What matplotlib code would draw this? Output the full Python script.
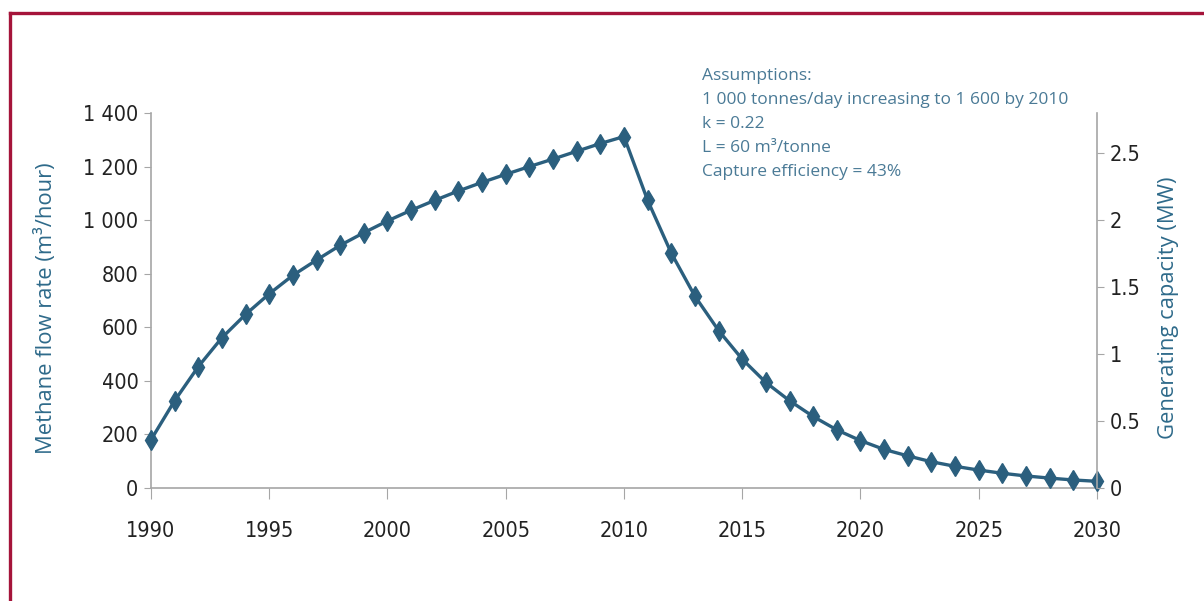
import matplotlib.pyplot as plt
from matplotlib.lines import Line2D

years = list(range(1990, 2031))
methane = [180, 326, 453, 561, 648, 725, 794, 851, 906, 953,
           997, 1037, 1074, 1109, 1141, 1171, 1200, 1228, 1257, 1286,
           1312, 1074, 877, 716, 588, 481, 394, 326, 267, 217,
           177, 144, 120, 98, 81, 67, 55, 45, 37, 30, 25]

left_ticks = [0, 200, 400, 600, 800, 1000, 1200, 1400]
left_labels = ['0', '200', '400', '600', '800', '1 000', '1 200', '1 400']
right_ticks = [0, 0.5, 1, 1.5, 2, 2.5]
right_labels = ['0', '0.5', '1', '1.5', '2', '2.5']
x_ticks = [1990, 1995, 2000, 2005, 2010, 2015, 2020, 2025, 2030]

notes = ['Assumptions:',
         '1 000 tonnes/day increasing to 1 600 by 2010',
         'k = 0.22',
         'L = 60 m\u00b3/tonne',
         'Capture efficiency = 43%']

line_col = '#2b5f7e'
label_col = '#2e6a8a'
note_col = '#4a7a96'
spine_col = '#a6a6a6'
text_font = ['Open Sans', 'DejaVu Sans']
tick_kw = dict(family='DejaVu Sans', stretch='condensed', fontsize=15.5)

fig = plt.figure(figsize=(12.04, 6.01), dpi=100)
ax1 = fig.add_axes([0.1254, 0.188, 0.7857, 0.624])
ax2 = ax1.twinx()

ax1.plot(years, methane, '-', color=line_col, lw=2.4, marker='d',
         markersize=10.5, markerfacecolor=line_col, markeredgecolor=line_col,
         clip_on=False, zorder=3)

ax1.set_xlim(1990, 2030)
ax1.set_ylim(0, 1400)
ax2.set_ylim(0, 2.8)

ax1.set_xticks(x_ticks)
ax1.set_xticklabels([str(x) for x in x_ticks], **tick_kw)
ax1.set_yticks(left_ticks)
ax1.set_yticklabels(left_labels, **tick_kw)
ax2.set_yticks(right_ticks)
ax2.set_yticklabels(right_labels, **tick_kw)

for a in (ax1, ax2):
    a.spines['top'].set_visible(False)
    for s in ('left', 'right', 'bottom'):
        a.spines[s].set_color(spine_col)
        a.spines[s].set_linewidth(1.2)
ax2.spines['left'].set_visible(False)
ax2.spines['bottom'].set_visible(False)
ax1.spines['right'].set_visible(False)

ax1.tick_params(axis='x', length=8, color=spine_col, pad=16, labelcolor='#222222')
ax1.tick_params(axis='y', length=5, color=spine_col, pad=4, labelcolor='#222222')
ax2.tick_params(axis='y', length=5, color=spine_col, pad=4, labelcolor='#222222')

ax1.set_ylabel('Methane flow rate (m\u00b3/hour)', color=label_col,
               family=text_font, fontsize=15.8)
ax1.yaxis.set_label_coords(-0.099, 0.48)
ax2.set_ylabel('Generating capacity (MW)', color=label_col,
               family=text_font, fontsize=15.8, rotation=90)
ax2.yaxis.set_label_coords(1.064, 0.48)

for i, t in enumerate(notes):
    fig.text(702 / 1204, 1 - (76 + 24 * i) / 601, t, color=note_col,
             family=text_font, fontsize=12.5, va='center', ha='left')

# red frame along top and left edge
frame_col = '#a5143a'
fig.add_artist(Line2D([0.0079, 1.0], [0.9784, 0.9784], color=frame_col,
                      lw=2.4, transform=fig.transFigure))
fig.add_artist(Line2D([0.0079, 0.0079], [0.0, 0.9784], color=frame_col,
                      lw=2.4, transform=fig.transFigure))

fig.savefig('out.png', dpi=100)
